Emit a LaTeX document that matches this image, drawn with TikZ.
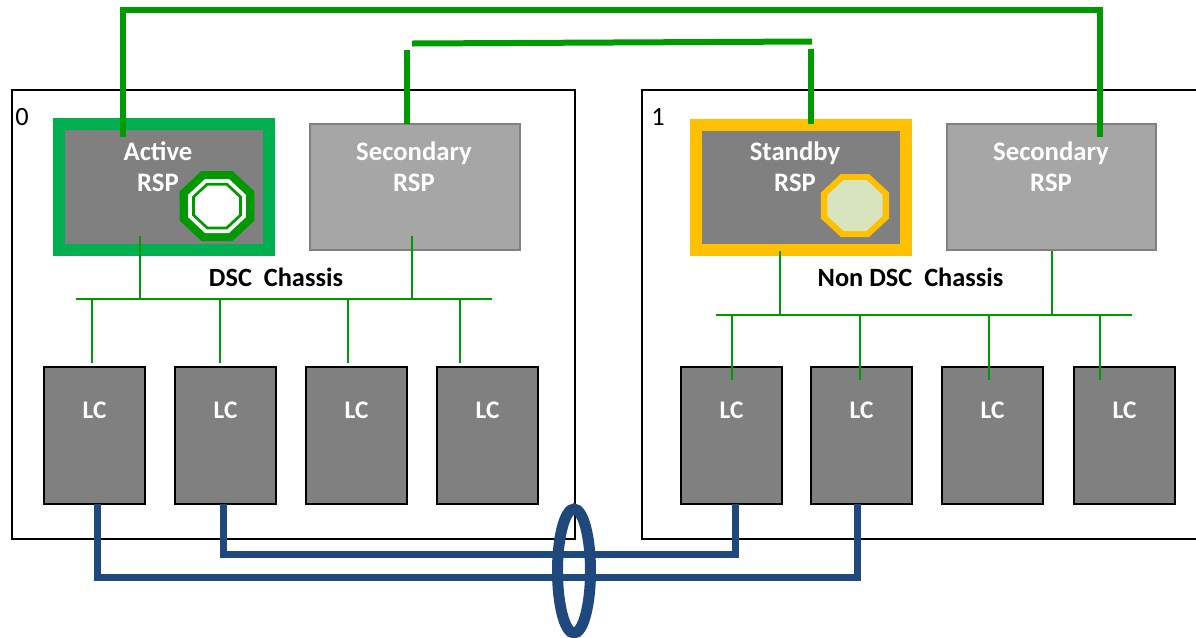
\documentclass[tikz,border=0pt]{standalone}
\usepackage{fontspec}
\setmainfont{Carlito}
\usetikzlibrary{shapes.geometric}
\definecolor{dscgreen}{HTML}{00AF50}
\definecolor{linkgreen}{HTML}{009900}
\definecolor{standbyamber}{HTML}{FFC000}
\definecolor{standbyfill}{HTML}{D7E4BD}
\definecolor{trunkblue}{HTML}{1F497D}
\definecolor{rspgrey}{HTML}{808080}
\definecolor{secgrey}{HTML}{A6A6A6}
\tikzset{
    chassisbox/.style={draw=black, line width=.05cm, fill=white, outer sep=0pt},
    rspbox/.style={minimum width=4.2cm, minimum height=2.52cm, inner sep=0pt, outer sep=0pt},
    lcbox/.style={draw=black, fill=rspgrey, line width=.04cm, minimum width=2.02cm, minimum height=2.74cm, outer sep=0pt},
    boxtext/.style={text=white, font=\fontsize{15.2}{16}\bfseries, text height=.25cm, text depth=.08cm},
    lctext/.style={text=white, font=\fontsize{14.4}{16}\bfseries},
    chassistext/.style={text=black, font=\fontsize{15}{16}\bfseries},
    slottext/.style={text=black, font=\fontsize{15}{16}\selectfont},
    octa/.style={regular polygon, regular polygon sides=8, inner sep=0pt, outer sep=0pt, transform shape},
    busline/.style={draw=linkgreen, line width=.04cm},
    ringlink/.style={draw=linkgreen, line width=.12cm},
    trunk/.style={draw=trunkblue, line width=.14cm},
}
\begin{document}
\begin{tikzpicture}[x=.02cm, y=-.02cm]
    \useasboundingbox (0,0) rectangle (1196,637);

    \draw[chassisbox] (12,90) rectangle (575,539);
    \draw[chassisbox] (642,90) rectangle (1200,539);
    \node[slottext] (slot0) at (22,117) {0};
    \node[slottext] (slot1) at (658,117) {1};

    \node[rspbox, draw=dscgreen, line width=.24cm, fill=rspgrey] (activersp) at (164,187) {};
    \node[rspbox, draw=rspgrey, line width=.04cm, fill=secgrey] (secrsp0) at (415,187) {};
    \node[rspbox, draw=standbyamber, line width=.24cm, fill=rspgrey] (standbyrsp) at (801,187.5) {};
    \node[rspbox, draw=rspgrey, line width=.04cm, fill=secgrey] (secrsp1) at (1051.5,187) {};

    \foreach \c/\s in {linkgreen/70, white/54, linkgreen/46.5, white/41}
        \node[octa, xscale=1.07, fill=\c, minimum size=\s*.02cm/.924] at (217,206) {};
    \foreach \c/\s in {standbyamber/63, standbyfill/51}
        \node[octa, xscale=1.08, fill=\c, minimum size=\s*.02cm/.924] at (855,205.5) {};

    \node[boxtext] (activelabel) at (158,156) {Active};
    \node[boxtext] (activersplabel) at (158,187) {RSP};
    \node[boxtext] (sec0label) at (414,156) {Secondary};
    \node[boxtext] (sec0rsplabel) at (414,187) {RSP};
    \node[boxtext] (standbylabel) at (795,156) {Standby};
    \node[boxtext] (standbyrsplabel) at (795,187) {RSP};
    \node[boxtext] (sec1label) at (1051,156) {Secondary};
    \node[boxtext] (sec1rsplabel) at (1051,187) {RSP};

    \foreach \n/\x in {01/94.5, 02/225.5, 03/356.5, 04/487.5, 11/731.5, 12/861.5, 13/992.5, 14/1124.5} {
        \node[lcbox] (lc\n) at (\x,435.5) {};
        \node[lctext] (lc\n label) at (\x,410) {LC};
    }

    \node[chassistext] (dsclabel) at (276,277.5) {DSC\ \ Chassis};
    \node[chassistext] (nondsclabel) at (910.5,277.5) {Non DSC\ \ Chassis};

    \coordinate (bus0l) at (76,299);
    \coordinate (bus0r) at (492,299);
    \coordinate (bus1l) at (716,315);
    \coordinate (bus1r) at (1132,315);
    \draw[busline] (bus0l) -- (bus0r);
    \draw[busline] (bus1l) -- (bus1r);
    \draw[busline] (140,236) coordinate (tap0a) -- (tap0a |- bus0l);
    \draw[busline] (412,236) coordinate (tap0b) -- (tap0b |- bus0l);
    \draw[busline] (780,251) coordinate (tap1a) -- (tap1a |- bus1l);
    \draw[busline] (1052,251) coordinate (tap1b) -- (tap1b |- bus1l);
    \foreach \x in {92,220,348,460}
        \draw[busline] (\x,299) -- (\x,363);
    \foreach \x in {732,860,989,1100}
        \draw[busline] (\x,315) -- (\x,380);

    \coordinate (ringa) at (123,137);
    \coordinate (ringb) at (1100,137);
    \draw[ringlink] (ringa) -- (123,10) -- (1100,10) -- (ringb);
    \coordinate (linka) at (412,43.5);
    \coordinate (linkb) at (812,41.5);
    \draw[ringlink] (linka) -- (linkb);
    \draw[ringlink] (secrsp0.north -| 407,0) -- (407,50);
    \draw[ringlink] (811,124) -- (811,49);

    \draw[trunk] ([xshift=.05cm]lc01.south) -- ++(0,73) -| ([xshift=-.09cm]lc12.south);
    \draw[trunk] ([xshift=-.05cm]lc02.south) -- ++(0,50) -| ([xshift=.07cm]lc11.south);
    \node[draw=trunkblue, line width=.22cm, ellipse, minimum width=.66cm, minimum height=2.48cm, inner sep=0pt] (lag) at (574,571) {};
\end{tikzpicture}
\end{document}
